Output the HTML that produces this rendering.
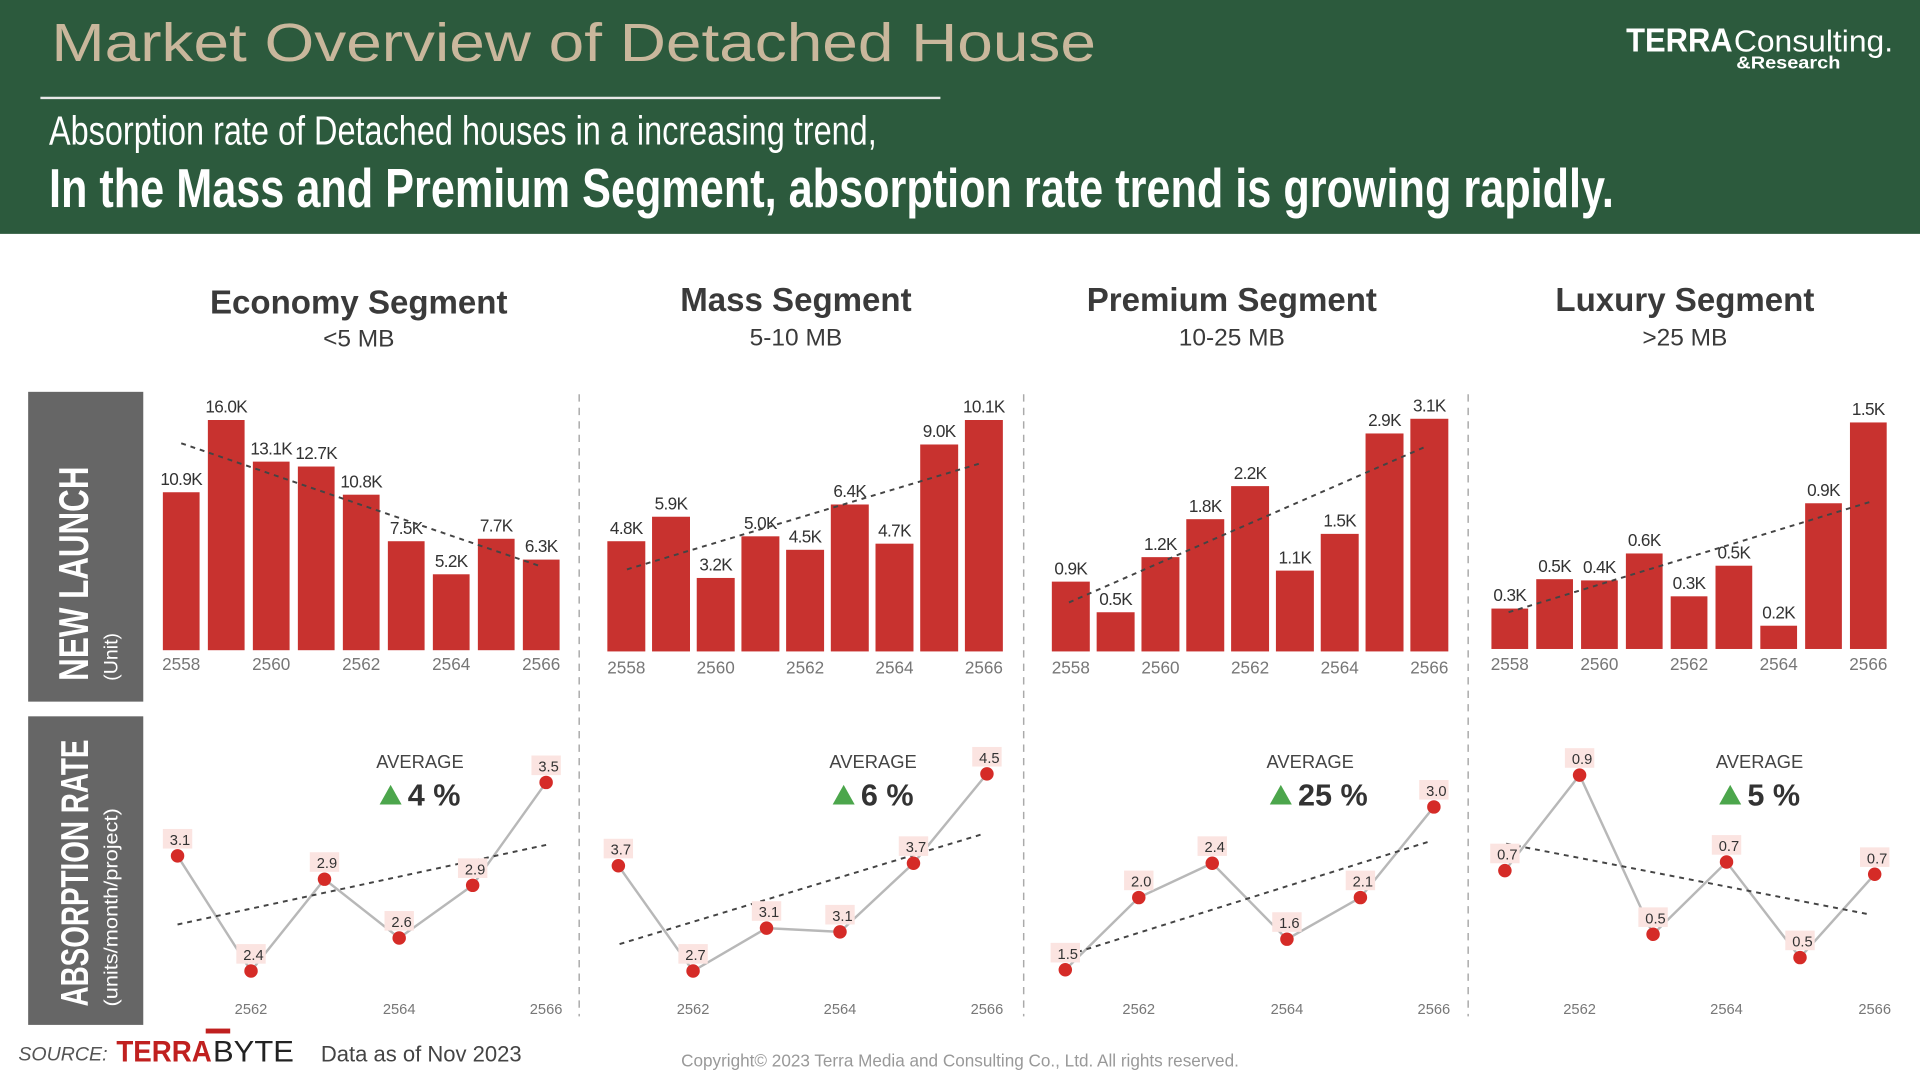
<!DOCTYPE html>
<html><head><meta charset="utf-8"><style>
html,body{margin:0;padding:0;background:#fff;width:1920px;height:1080px;overflow:hidden}
svg{display:block}
text{font-family:"Liberation Sans",sans-serif}
</style></head><body>
<svg width="1920" height="1080" viewBox="0 0 1568 882" xmlns="http://www.w3.org/2000/svg">
<rect x="0" y="0" width="1568" height="191" fill="#2c5a3d"/>
<text x="42" y="50" font-size="44" fill="#c9b79c" textLength="853" lengthAdjust="spacingAndGlyphs">Market Overview of Detached House</text>
<line x1="33" y1="80" x2="768" y2="80" stroke="#e8e8e8" stroke-width="2"/>
<text x="40" y="118" font-size="33" fill="#fff" textLength="676" lengthAdjust="spacingAndGlyphs">Absorption rate of Detached houses in a increasing trend,</text>
<text x="40" y="169" font-size="45" font-weight="bold" fill="#fff" textLength="1278" lengthAdjust="spacingAndGlyphs">In the Mass and Premium Segment, absorption rate trend is growing rapidly.</text>
<text x="1328" y="42" font-size="27" font-weight="bold" fill="#fff" textLength="87" lengthAdjust="spacingAndGlyphs">TERRA</text>
<text x="1416" y="42" font-size="25" fill="#fff" textLength="130" lengthAdjust="spacingAndGlyphs">Consulting.</text>
<text x="1418" y="56" font-size="14" font-weight="bold" fill="#fff" textLength="85" lengthAdjust="spacingAndGlyphs">&amp;Research</text>

<g font-weight="bold" font-size="27" fill="#3a3a3a" text-anchor="middle">
<text x="293" y="256">Economy Segment</text>
<text x="650" y="254">Mass Segment</text>
<text x="1006" y="254">Premium Segment</text>
<text x="1376" y="254">Luxury Segment</text>
</g>
<g font-size="20" fill="#3a3a3a" text-anchor="middle">
<text x="293" y="283">&lt;5 MB</text>
<text x="650" y="282">5-10 MB</text>
<text x="1006" y="282">10-25 MB</text>
<text x="1376" y="282">&gt;25 MB</text>
</g>

<rect x="23" y="320" width="94" height="253" fill="#666"/>
<rect x="23" y="585" width="94" height="252" fill="#666"/>
<text transform="translate(72,556) rotate(-90)" font-size="34" font-weight="bold" fill="#fff" textLength="175" lengthAdjust="spacingAndGlyphs">NEW LAUNCH</text>
<text transform="translate(96,556) rotate(-90)" font-size="16" fill="#fff">(Unit)</text>
<text transform="translate(72,822) rotate(-90)" font-size="32" font-weight="bold" fill="#fff" textLength="218" lengthAdjust="spacingAndGlyphs">ABSORPTION RATE</text>
<text transform="translate(96,822) rotate(-90)" font-size="16" fill="#fff" textLength="162" lengthAdjust="spacingAndGlyphs">(units/month/project)</text>

<g stroke="#aaa" stroke-width="1.2" stroke-dasharray="6,5">
<line x1="473" y1="322" x2="473" y2="830"/>
<line x1="836" y1="322" x2="836" y2="830"/>
<line x1="1199" y1="322" x2="1199" y2="830"/>
</g>

<g id="bars" fill="#c8322f"></g>
<g id="blabels" font-size="14" fill="#333" text-anchor="middle" letter-spacing="-0.5"></g>
<g id="years" font-size="14" fill="#777" text-anchor="middle"></g>
<g id="lines"></g>
<g font-size="15" fill="#444" text-anchor="middle" id="avg"></g>

<text x="15" y="866" font-size="16" font-style="italic" fill="#555">SOURCE:</text>
<text x="95" y="867" font-size="24" font-weight="bold" fill="#c0201f" textLength="78" lengthAdjust="spacingAndGlyphs">TERRA</text>
<text x="174" y="867" font-size="24" fill="#222" textLength="66" lengthAdjust="spacingAndGlyphs">BYTE</text>
<rect x="168" y="840" width="20" height="4" fill="#c0201f"/>
<text x="262" y="867" font-size="18" fill="#444">Data as of Nov 2023</text>
<text x="784" y="871" font-size="14" fill="#999" text-anchor="middle">Copyright© 2023 Terra Media and Consulting Co., Ltd. All rights reserved.</text>
</svg>
<script>
const NS="http://www.w3.org/2000/svg";
function el(p,t,a,txt){const e=document.createElementNS(NS,t);for(const k in a)e.setAttribute(k,a[k]);if(txt!==undefined)e.textContent=txt;document.getElementById(p).appendChild(e);return e;}
const panels=[
{x0:133,pitch:36.75,w:30,bottom:531,yy:547,tops:[402,343,377,381,404,442,469,440,457],labs:["10.9K","16.0K","13.1K","12.7K","10.8K","7.5K","5.2K","7.7K","6.3K"],tr:[148,362,443,463],
 pts:[[145,699],[205,793],[265,718],[326,766],[386,723],[446,639]],pl:["3.1","2.4","2.9","2.6","2.9","3.5"],ptr:[145,755,446,690],ac:343,av:"4 %"},
{x0:496,pitch:36.5,w:31,bottom:532,yy:550,tops:[442,422,472,438,449,412,444,363,343],labs:["4.8K","5.9K","3.2K","5.0K","4.5K","6.4K","4.7K","9.0K","10.1K"],tr:[512,465,802,378],
 pts:[[505,707],[566,793],[626,758],[686,761],[746,705],[806,632]],pl:["3.7","2.7","3.1","3.1","3.7","4.5"],ptr:[506,771,803,681],ac:713,av:"6 %"},
{x0:859,pitch:36.6,w:31,bottom:532,yy:550,tops:[475,500,455,424,397,466,436,354,342],labs:["0.9K","0.5K","1.2K","1.8K","2.2K","1.1K","1.5K","2.9K","3.1K"],tr:[873,492,1166,364],
 pts:[[870,792],[930,733],[990,705],[1051,767],[1111,733],[1171,659]],pl:["1.5","2.0","2.4","1.6","2.1","3.0"],ptr:[872,780,1168,687],ac:1070,av:"25 %"},
{x0:1218,pitch:36.6,w:30,bottom:530,yy:547,tops:[497,473,474,452,487,462,511,411,345],labs:["0.3K","0.5K","0.4K","0.6K","0.3K","0.5K","0.2K","0.9K","1.5K"],tr:[1232,500,1527,410],
 pts:[[1229,711],[1290,633],[1350,763],[1410,704],[1470,782],[1531,714]],pl:["0.7","0.9","0.5","0.7","0.5","0.7"],ptr:[1230,689,1528,747],ac:1437,av:"5 %"}
];
const yrs=["2558","2560","2562","2564","2566"];
panels.forEach(p=>{
 p.tops.forEach((t,i)=>{const x=p.x0+i*p.pitch;el("bars","rect",{x:x,y:t,width:p.w,height:p.bottom-t});
  el("blabels","text",{x:x+p.w/2,y:t-6},p.labs[i]);});
 for(let j=0;j<5;j++){el("years","text",{x:p.x0+j*2*p.pitch+p.w/2,y:p.yy},yrs[j]);}
 el("lines","line",{x1:p.tr[0],y1:p.tr[1],x2:p.tr[2],y2:p.tr[3],stroke:"#444","stroke-width":1.6,"stroke-dasharray":"4,4"});
 el("lines","polyline",{points:p.pts.map(q=>q.join(",")).join(" "),fill:"none",stroke:"#b8b8b8","stroke-width":2});
 el("lines","line",{x1:p.ptr[0],y1:p.ptr[1],x2:p.ptr[2],y2:p.ptr[3],stroke:"#444","stroke-width":1.6,"stroke-dasharray":"4,4"});
 p.pts.forEach((q,i)=>{el("lines","rect",{x:q[0]-12,y:q[1]-22,width:24,height:16,fill:"#fbe4e1"});
  el("lines","circle",{cx:q[0],cy:q[1],r:5.5,fill:"#d52b27"});
  el("lines","text",{x:q[0]+2,y:q[1]-9,"font-size":12,fill:"#333","text-anchor":"middle"},p.pl[i]);});
 [1,3,5].forEach((k,j)=>el("years","text",{x:p.pts[k][0],y:828,"font-size":12},["2562","2564","2566"][j]));
 el("avg","text",{x:p.ac,y:627},"AVERAGE");
 el("avg","polygon",{points:`${p.ac-33},657 ${p.ac-24},641 ${p.ac-15},657`,fill:"#4ca64c"});
 el("avg","text",{x:p.ac-10,y:658,"font-size":25,"font-weight":"bold",fill:"#333","text-anchor":"start"},p.av);
});
</script>
</body></html>
